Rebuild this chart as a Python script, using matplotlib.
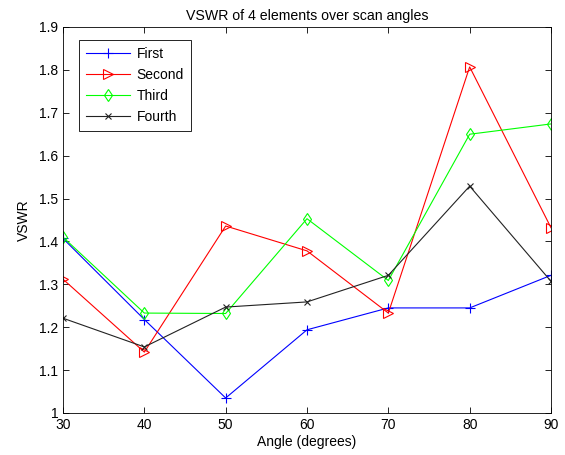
import matplotlib
matplotlib.use("Agg")
import matplotlib.pyplot as plt

plt.rcParams['font.family'] = ['Liberation Sans', 'DejaVu Sans']

angles = [30, 40, 50, 60, 70, 80, 90]
first = [1.407, 1.218, 1.035, 1.194, 1.245, 1.245, 1.321]
second = [1.312, 1.142, 1.436, 1.378, 1.233, 1.807, 1.432]
third = [1.410, 1.233, 1.232, 1.453, 1.309, 1.650, 1.674]
fourth = [1.221, 1.154, 1.247, 1.259, 1.321, 1.529, 1.307]
xticks = [30, 40, 50, 60, 70, 80, 90]
yticks = [1, 1.1, 1.2, 1.3, 1.4, 1.5, 1.6, 1.7, 1.8, 1.9]

fig = plt.figure(figsize=(5.65, 4.55), dpi=100)
ax = fig.add_axes([63/565, 42/455, (551-63)/565, (413-27)/455])

ax.plot(angles, first, color='#0000ff', marker='+', ms=7, mew=0.8, lw=0.8, label='First')
ax.plot(angles, second, color='#ff0000', marker='>', ms=6.5, mfc='none', mew=0.8, lw=0.8, label='Second')
ax.plot(angles, third, color='#00ff00', marker='d', ms=6.5, mfc='none', mew=0.8, lw=0.8, label='Third')
ax.plot(angles, fourth, color='#222222', marker='x', ms=4, mew=0.8, lw=0.8, label='Fourth')

ax.set_xlim(30, 90)
ax.set_ylim(1, 1.9)
ax.set_xticks(xticks)
ax.set_xticklabels([str(v) for v in xticks])
ax.set_yticks(yticks)
ax.set_yticklabels(['1'] + [f'{v:.1f}' for v in yticks[1:]])
ax.tick_params(direction='in', top=True, right=True, labelsize=10, length=4, width=0.6)
for s in ax.spines.values():
    s.set_linewidth(0.6)

ax.set_xlabel('Angle (degrees)', fontsize=10, labelpad=2)
ax.set_ylabel('VSWR', fontsize=10, labelpad=6)
ax.set_title('VSWR of 4 elements over scan angles', fontsize=10.2, pad=5)

leg = ax.legend(loc='upper left', fontsize=10, fancybox=False, framealpha=1,
                edgecolor='black', handlelength=3.2, handletextpad=0.45,
                borderpad=0.5, labelspacing=0.5, borderaxespad=0,
                bbox_to_anchor=((79-63)/488, (413-40)/386))
leg.get_frame().set_linewidth(0.6)

fig.savefig('out.png', dpi=100, facecolor='white')
